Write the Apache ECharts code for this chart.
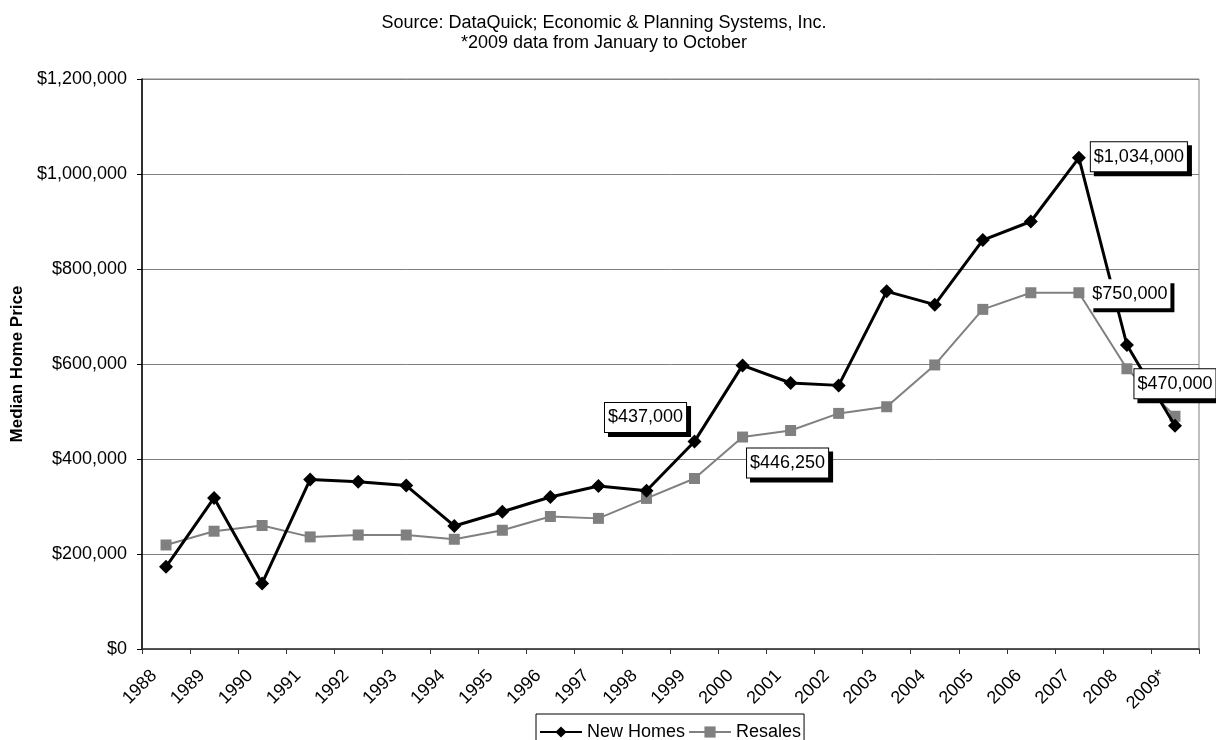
<!DOCTYPE html>
<html>
<head>
<meta charset="utf-8">
<script src="https://cdn.jsdelivr.net/npm/echarts@6/dist/echarts.min.js"></script>
<style>
html,body{margin:0;padding:0;background:#fff;}
#chart{width:1216px;height:740px;}
</style>
</head>
<body>
<div id="chart"></div>
<script>
const titleLines = ['Source: DataQuick; Economic & Planning Systems, Inc.', '*2009 data from January to October'];
const yAxisTitle = 'Median Home Price';
const years = ['1988','1989','1990','1991','1992','1993','1994','1995','1996','1997','1998','1999','2000','2001','2002','2003','2004','2005','2006','2007','2008','2009*'];
const newHomes = [173000, 318000, 138000, 357000, 352000, 344000, 259000, 289000, 320000, 343000, 333000, 437000, 597000, 560000, 555000, 753000, 725000, 861000, 900000, 1034000, 640000, 470000];
const resales = [219000, 248000, 260000, 236000, 240000, 240000, 231000, 250000, 279000, 275000, 317000, 359000, 446250, 460000, 496000, 510000, 598000, 715000, 750000, 750000, 590000, 490000];
const seriesNames = ['New Homes', 'Resales'];
const yTicks = [0, 200000, 400000, 600000, 800000, 1000000, 1200000];
// which points carry a callout (by year)
const calloutNewYears = ['1999', '2007', '2009*'];
const calloutResaleYears = ['2000', '2007'];

const FONT = '"Liberation Sans", Arial, sans-serif';
function money(v){ return '$' + Math.round(v).toLocaleString('en-US'); }

// callout placement (styling only)
const calloutOffsets = {
  'New Homes|1999': [-49, -24],
  'New Homes|2007': [60, -1],
  'New Homes|2009*': [0, -42],
  'Resales|2000': [45, 26],
  'Resales|2007': [51, 1]
};
function calloutLabel(key, noBorder){
  return {
    show: true,
    position: 'inside',
    offset: calloutOffsets[key],
    align: 'center',
    verticalAlign: 'middle',
    formatter: p => money(p.value[1]),
    fontFamily: FONT,
    fontSize: 18,
    color: '#000',
    backgroundColor: '#fff',
    borderColor: '#000',
    borderWidth: noBorder ? 0 : 1,
    padding: [6, 3, 5, 3],
    shadowColor: '#000',
    shadowOffsetX: 4,
    shadowOffsetY: 4,
    shadowBlur: 0
  };
}
function buildData(values){
  return values.map((v, i) => [i + 0.5, v]);
}
function buildCallouts(){
  const out = [];
  years.forEach((y, i) => {
    if (calloutNewYears.indexOf(y) >= 0) {
      const key = seriesNames[0] + '|' + y;
      out.push({ value: [i + 0.5, newHomes[i]], label: calloutLabel(key, false) });
    }
    if (calloutResaleYears.indexOf(y) >= 0) {
      const key = seriesNames[1] + '|' + y;
      out.push({ value: [i + 0.5, resales[i]], label: calloutLabel(key, key === 'Resales|2007') });
    }
  });
  return out;
}

const chart = echarts.init(document.getElementById('chart'), null, {renderer: 'canvas'});
const option = {
  animation: false,
  backgroundColor: '#fff',
  title: {
    text: titleLines.join('\n'),
    left: 599,
    top: 8,
    textAlign: 'center',
    textStyle: { fontFamily: FONT, fontSize: 18, fontWeight: 'normal', color: '#000', lineHeight: 20 }
  },
  legend: {
    data: seriesNames,
    left: 536,
    top: 714,
    itemWidth: 42,
    itemHeight: 14,
    itemGap: 3,
    borderColor: '#000',
    borderWidth: 1,
    padding: [9, 3, 6, 3],
    textStyle: { fontFamily: FONT, fontSize: 18, color: '#000' }
  },
  grid: [
    { left: 142, right: 17, top: 79, bottom: 91, show: true, borderColor: '#808080', borderWidth: 1, containLabel: false },
    { left: 154, right: 5, top: 79, bottom: 91, show: false, containLabel: false }
  ],
  xAxis: [
    {
      type: 'value', gridIndex: 0, min: 0, max: years.length, interval: 1,
      axisLine: { show: true, onZero: false, lineStyle: { color: '#333', width: 1.5 } },
      axisTick: { show: true, length: 5, lineStyle: { color: '#333', width: 1 } },
      axisLabel: { show: false },
      splitLine: { show: false }
    },
    {
      type: 'value', gridIndex: 1, min: 0, max: years.length, interval: 1,
      axisLine: { show: false },
      axisTick: { show: false },
      splitLine: { show: false },
      axisLabel: {
        show: true, rotate: 45, margin: 24,
        fontFamily: FONT, fontSize: 18, color: '#000',
        showMaxLabel: true,
        formatter: v => (years[Math.round(v)] !== undefined ? years[Math.round(v)] : '')
      }
    }
  ],
  yAxis: [
    {
      type: 'value', gridIndex: 0, min: yTicks[0], max: yTicks[yTicks.length - 1], interval: yTicks[1] - yTicks[0],
      name: yAxisTitle, nameLocation: 'middle', nameRotate: 90, nameGap: 113,
      nameTextStyle: { fontFamily: FONT, fontSize: 17, fontWeight: 'bold', color: '#000' },
      axisLine: { show: true, lineStyle: { color: '#000', width: 1.5 } },
      axisTick: { show: true, length: 5, lineStyle: { color: '#000' } },
      axisLabel: { margin: 15, fontFamily: FONT, fontSize: 18, color: '#000', formatter: v => money(v) },
      splitLine: { show: true, lineStyle: { color: '#808080', width: 1 } }
    },
    { type: 'value', gridIndex: 1, min: 0, max: 1, show: false }
  ],
  series: [
    {
      name: seriesNames[1], type: 'line', xAxisIndex: 0, yAxisIndex: 0,
      data: buildData(resales),
      symbol: 'rect', symbolSize: 11,
      itemStyle: { color: '#808080' },
      lineStyle: { color: '#808080', width: 2 },
      z: 2
    },
    {
      name: seriesNames[0], type: 'line', xAxisIndex: 0, yAxisIndex: 0,
      data: buildData(newHomes),
      symbol: 'diamond', symbolSize: 14,
      itemStyle: { color: '#000' },
      lineStyle: { color: '#000', width: 3 },
      z: 3
    },
    {
      name: 'callouts', type: 'scatter', xAxisIndex: 0, yAxisIndex: 0,
      data: buildCallouts(),
      symbolSize: 0, silent: true,
      itemStyle: { color: 'transparent', opacity: 1 },
      emphasis: { disabled: true },
      z: 10
    }
  ]
};
chart.setOption(option);
</script>
</body>
</html>
